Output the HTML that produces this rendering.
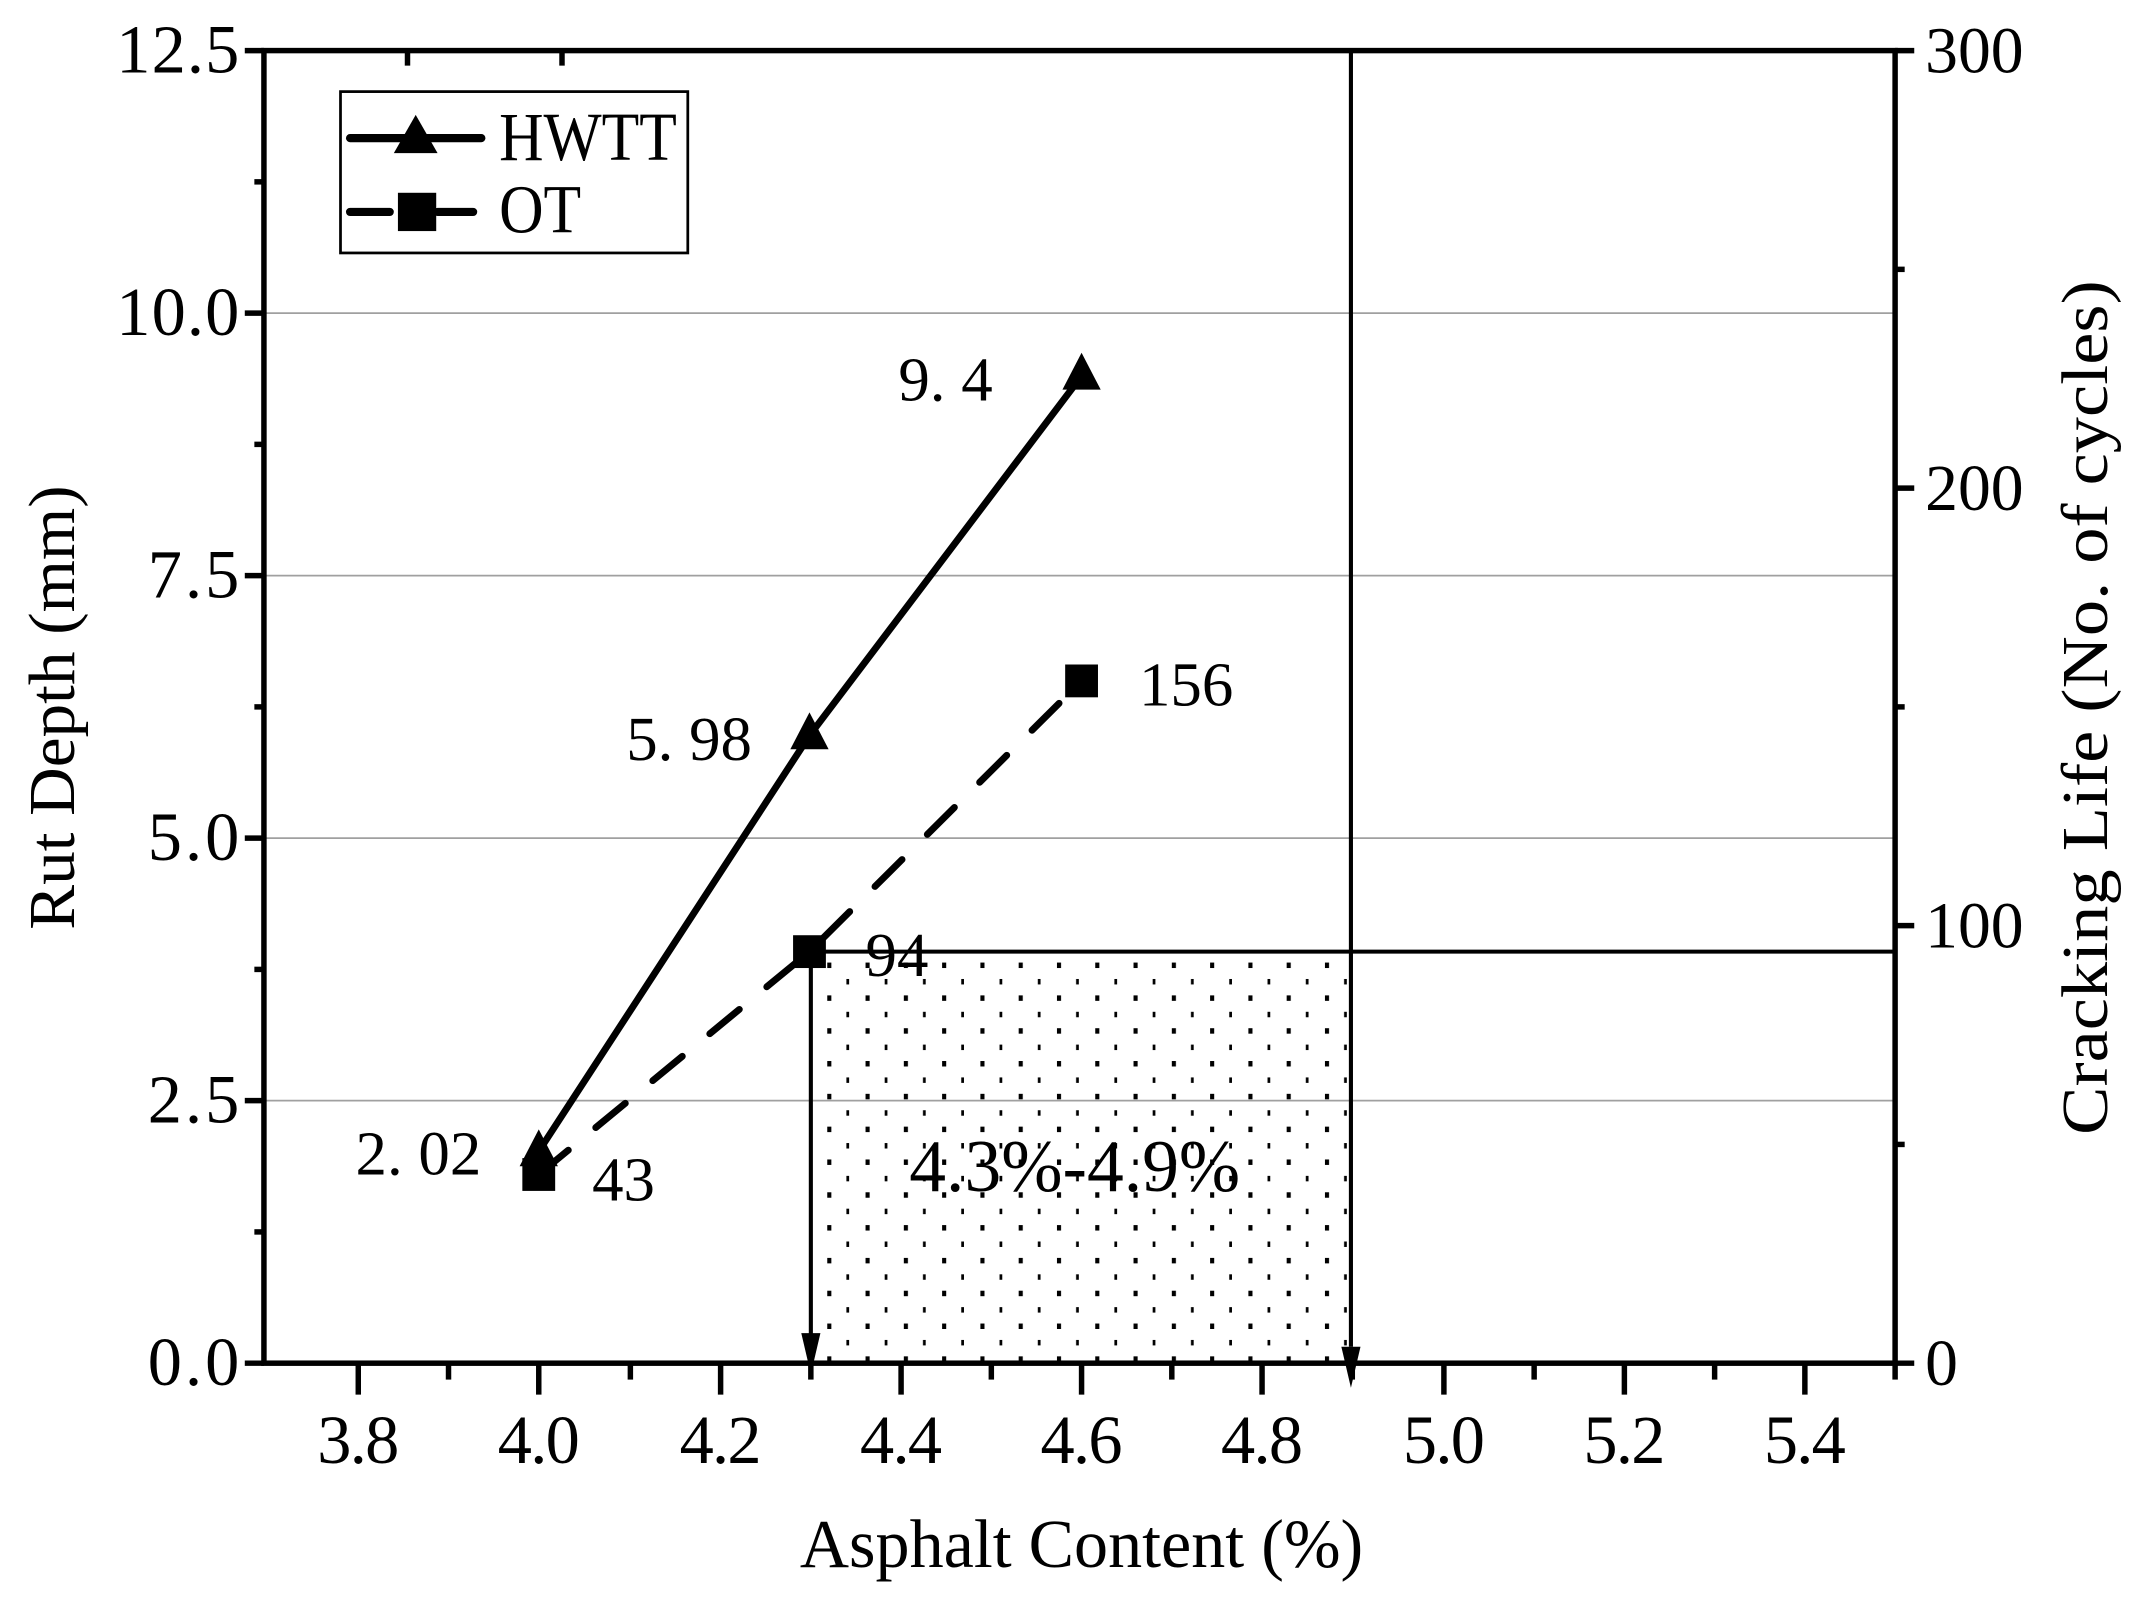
<!DOCTYPE html>
<html><head><style>html,body{margin:0;padding:0;background:#fff}svg{display:block}text{font-family:"Liberation Serif",serif;fill:#000}</style></head>
<body>
<svg width="2144" height="1600" viewBox="0 0 1568 1170.2" xmlns="http://www.w3.org/2000/svg">
<defs>
<pattern id="dots" x="593" y="696" width="28" height="24" patternUnits="userSpaceOnUse">
<rect x="12" y="8" width="3" height="4" fill="#000"/>
<rect x="26" y="20" width="3" height="4" fill="#000"/>
</pattern>
</defs>
<rect x="593" y="696" width="395" height="301" fill="url(#dots)"/>
<g stroke="#a0a0a0" stroke-width="1.3">
<line x1="193" y1="229" x2="1386" y2="229"/>
<line x1="193" y1="421" x2="1386" y2="421"/>
<line x1="193" y1="613" x2="1386" y2="613"/>
<line x1="193" y1="805" x2="1386" y2="805"/>
</g>
<g stroke="#000" stroke-width="4" fill="none">
<rect x="193" y="37" width="1193" height="960"/>
<line x1="179" y1="37" x2="193" y2="37"/><line x1="179" y1="229" x2="193" y2="229"/><line x1="179" y1="421" x2="193" y2="421"/><line x1="179" y1="613" x2="193" y2="613"/><line x1="179" y1="805" x2="193" y2="805"/><line x1="179" y1="997" x2="193" y2="997"/>
<line x1="186" y1="133" x2="193" y2="133"/><line x1="186" y1="325" x2="193" y2="325"/><line x1="186" y1="517" x2="193" y2="517"/><line x1="186" y1="709" x2="193" y2="709"/><line x1="186" y1="901" x2="193" y2="901"/>
<line x1="262" y1="997" x2="262" y2="1020"/><line x1="394" y1="997" x2="394" y2="1020"/><line x1="527" y1="997" x2="527" y2="1020"/><line x1="659" y1="997" x2="659" y2="1020"/><line x1="791" y1="997" x2="791" y2="1020"/><line x1="923" y1="997" x2="923" y2="1020"/><line x1="1056" y1="997" x2="1056" y2="1020"/><line x1="1188" y1="997" x2="1188" y2="1020"/><line x1="1320" y1="997" x2="1320" y2="1020"/>
<line x1="328" y1="997" x2="328" y2="1009"/><line x1="461" y1="997" x2="461" y2="1009"/><line x1="593" y1="997" x2="593" y2="1009"/><line x1="725" y1="997" x2="725" y2="1009"/><line x1="857" y1="997" x2="857" y2="1009"/><line x1="989" y1="997" x2="989" y2="1009"/><line x1="1122" y1="997" x2="1122" y2="1009"/><line x1="1254" y1="997" x2="1254" y2="1009"/><line x1="1386" y1="997" x2="1386" y2="1009"/>
<line x1="298" y1="37" x2="298" y2="48"/><line x1="411" y1="37" x2="411" y2="48"/>
<line x1="1386" y1="37" x2="1400" y2="37"/><line x1="1386" y1="357" x2="1400" y2="357"/><line x1="1386" y1="677" x2="1400" y2="677"/><line x1="1386" y1="997" x2="1400" y2="997"/>
<line x1="1386" y1="197" x2="1393" y2="197"/><line x1="1386" y1="517" x2="1393" y2="517"/><line x1="1386" y1="837" x2="1393" y2="837"/>
</g>
<g stroke="#000" stroke-width="3">
<line x1="592" y1="696" x2="1386" y2="696"/>
<line x1="593" y1="696" x2="593" y2="985"/>
<line x1="988" y1="37" x2="988" y2="985"/>
</g>
<polygon points="586,975 600,975 593,1005" fill="#000"/>
<polygon points="981,985 995,985 988,1015" fill="#000"/>
<polyline points="394,842 592,538 791,275" fill="none" stroke="#000" stroke-width="5" stroke-linecap="round"/>
<polyline points="394,859 592,696 791,498" fill="none" stroke="#000" stroke-width="5" stroke-dasharray="28,26" stroke-linecap="round"/>
<polygon points="394,826 380,853 408,853" fill="#000"/>
<polygon points="592,521 578,548 606,548" fill="#000"/>
<polygon points="791,258 777,285 805,285" fill="#000"/>
<rect x="382" y="847" width="24" height="24" fill="#000"/>
<rect x="580" y="684" width="24" height="24" fill="#000"/>
<rect x="779" y="486" width="24" height="24" fill="#000"/>
<rect x="249" y="67" width="254" height="118" fill="#fff" stroke="#000" stroke-width="2"/>
<line x1="256" y1="101" x2="352" y2="101" stroke="#000" stroke-width="6" stroke-linecap="round"/>
<polygon points="304,84 288,112 320,112" fill="#000"/>
<line x1="256" y1="155" x2="285" y2="155" stroke="#000" stroke-width="6" stroke-linecap="round"/>
<line x1="320" y1="155" x2="346" y2="155" stroke="#000" stroke-width="6" stroke-linecap="round"/>
<rect x="291" y="141" width="28" height="28" fill="#000"/>
<text x="365" y="117" font-size="50" textLength="130" lengthAdjust="spacingAndGlyphs">HWTT</text>
<text x="365" y="170" font-size="50" textLength="60" lengthAdjust="spacingAndGlyphs">OT</text>
<g font-size="50" lengthAdjust="spacingAndGlyphs">
<text x="85" y="53" textLength="90">12.5</text><text x="85" y="245" textLength="90">10.0</text><text x="108" y="437" textLength="67">7.5</text><text x="108" y="629" textLength="67">5.0</text><text x="108" y="821" textLength="67">2.5</text><text x="108" y="1013" textLength="67">0.0</text>
</g>
<g font-size="50" lengthAdjust="spacingAndGlyphs">
<text x="232" y="1070" textLength="60">3.8</text><text x="364" y="1070" textLength="60">4.0</text><text x="497" y="1070" textLength="60">4.2</text><text x="629" y="1070" textLength="60">4.4</text><text x="761" y="1070" textLength="60">4.6</text><text x="893" y="1070" textLength="60">4.8</text><text x="1026" y="1070" textLength="60">5.0</text><text x="1158" y="1070" textLength="60">5.2</text><text x="1290" y="1070" textLength="60">5.4</text>
</g>
<g font-size="48">
<text x="1408" y="53">300</text><text x="1408" y="373">200</text><text x="1408" y="693">100</text><text x="1408" y="1013">0</text>
</g>
<text x="585" y="1146" font-size="50" textLength="412" lengthAdjust="spacingAndGlyphs">Asphalt Content (%)</text>
<text transform="translate(54,680) rotate(-90)" font-size="48" textLength="325" lengthAdjust="spacingAndGlyphs">Rut Depth (mm)</text>
<text transform="translate(1541,830) rotate(-90)" font-size="48" textLength="625" lengthAdjust="spacingAndGlyphs">Cracking Life (No. of cycles)</text>
<g font-size="46">
<text x="657" y="293">9. 4</text>
<text x="458" y="556">5. 98</text>
<text x="260" y="859">2. 02</text>
<text x="433" y="878">43</text>
<text x="633" y="714">94</text>
<text x="833" y="516">156</text>
</g>
<text x="665" y="871" font-size="54" textLength="242" lengthAdjust="spacingAndGlyphs">4.3%-4.9%</text>
</svg>
</body></html>
